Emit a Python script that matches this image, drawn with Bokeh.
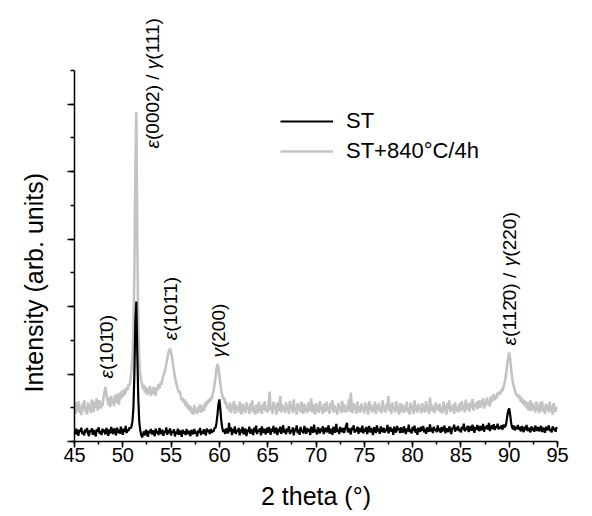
from bokeh.plotting import figure
from bokeh.models import FixedTicker, Label, Legend, LegendItem, Title
from bokeh.embed import file_html
from bokeh.resources import INLINE

# ---- data (2 theta from 45.0 to 95.0 in 0.1 degree steps) ----
st = [
    0.32, 0.21, 0.38, 0.26, 0.17, 0.35, 0.29, 0.41, 0.22, 0.30,
    0.18, 0.36, 0.27, 0.40, 0.24, 0.16, 0.33, 0.28, 0.39, 0.20,
    0.34, 0.25, 0.15, 0.37, 0.29, 0.42, 0.23, 0.31, 0.19, 0.38,
    0.27, 0.35, 0.21, 0.40, 0.30, 0.17, 0.36, 0.24, 0.43, 0.28,
    0.22, 0.39, 0.31, 0.18, 0.41, 0.26, 0.35, 0.23, 0.44, 0.30,
    0.20, 0.38, 0.28, 0.46, 0.25, 0.36, 0.31, 0.42, 0.38, 0.45,
    0.60, 1.00, 2.00, 3.60, 4.15, 2.60, 1.30, 0.60, 0.35, 0.20,
    0.12, 0.22, 0.30, 0.18, 0.35, 0.25, 0.14, 0.32, 0.26, 0.37,
    0.21, 0.33, 0.27, 0.16, 0.38, 0.24, 0.31, 0.19, 0.40, 0.28,
    0.22, 0.35, 0.17, 0.30, 0.26, 0.42, 0.20, 0.34, 0.25, 0.39,
    0.18, 0.31, 0.27, 0.36, 0.15, 0.29, 0.23, 0.38, 0.20, 0.33,
    0.26, 0.14, 0.35, 0.24, 0.30, 0.19, 0.37, 0.22, 0.32, 0.25,
    0.16, 0.34, 0.28, 0.21, 0.37, 0.24, 0.30, 0.15, 0.33, 0.26,
    0.40, 0.19, 0.31, 0.23, 0.36, 0.27, 0.18, 0.38, 0.29, 0.34,
    0.22, 0.37, 0.26, 0.33, 0.30, 0.41, 0.40, 0.55, 0.80, 1.10,
    1.25, 0.95, 0.60, 0.40, 0.28, 0.36, 0.22, 0.39, 0.31, 0.24,
    0.55, 0.30, 0.42, 0.19, 0.37, 0.26, 0.45, 0.22, 0.34, 0.29,
    0.40, 0.18, 0.36, 0.27, 0.43, 0.21, 0.33, 0.38, 0.16, 0.35,
    0.28, 0.44, 0.23, 0.36, 0.31, 0.19, 0.41, 0.27, 0.47, 0.22,
    0.34, 0.30, 0.39, 0.18, 0.45, 0.25, 0.37, 0.32, 0.21, 0.40,
    0.26, 0.43, 0.33, 0.20, 0.38, 0.29, 0.46, 0.24, 0.35, 0.41,
    0.19, 0.37, 0.28, 0.44, 0.23, 0.32, 0.48, 0.26, 0.36, 0.21,
    0.39, 0.30, 0.45, 0.22, 0.34, 0.27, 0.42, 0.18, 0.38, 0.31,
    0.48, 0.25, 0.36, 0.20, 0.43, 0.29, 0.35, 0.24, 0.46, 0.32,
    0.23, 0.40, 0.29, 0.37, 0.19, 0.44, 0.31, 0.26, 0.50, 0.28,
    0.35, 0.21, 0.42, 0.33, 0.24, 0.39, 0.30, 0.45, 0.22, 0.36,
    0.41, 0.27, 0.34, 0.48, 0.23, 0.38, 0.30, 0.20, 0.44, 0.32,
    0.26, 0.52, 0.29, 0.37, 0.22, 0.43, 0.35, 0.28, 0.40, 0.25,
    0.36, 0.46, 0.55, 0.27, 0.39, 0.31, 0.21, 0.42, 0.34, 0.48,
    0.26, 0.37, 0.30, 0.44, 0.23, 0.40, 0.33, 0.28, 0.47, 0.24,
    0.38, 0.29, 0.43, 0.22, 0.35, 0.46, 0.27, 0.40, 0.31, 0.19,
    0.42, 0.36, 0.25, 0.48, 0.30, 0.38, 0.23, 0.45, 0.33, 0.28,
    0.41, 0.26, 0.37, 0.31, 0.49, 0.24, 0.35, 0.43, 0.29, 0.38,
    0.20, 0.44, 0.32, 0.27, 0.46, 0.34, 0.39, 0.25, 0.42, 0.30,
    0.27, 0.45, 0.33, 0.22, 0.39, 0.30, 0.50, 0.28, 0.36, 0.24,
    0.43, 0.31, 0.47, 0.26, 0.38, 0.20, 0.41, 0.35, 0.29, 0.44,
    0.32, 0.46, 0.27, 0.38, 0.23, 0.42, 0.35, 0.29, 0.51, 0.30,
    0.40, 0.25, 0.44, 0.33, 0.37, 0.28, 0.48, 0.31, 0.39, 0.26,
    0.43, 0.30, 0.36, 0.47, 0.24, 0.39, 0.33, 0.28, 0.45, 0.35,
    0.22, 0.41, 0.37, 0.50, 0.29, 0.42, 0.34, 0.46, 0.31, 0.38,
    0.27, 0.44, 0.36, 0.53, 0.30, 0.41, 0.35, 0.47, 0.28, 0.39,
    0.45, 0.32, 0.50, 0.37, 0.26, 0.43, 0.34, 0.49, 0.38, 0.31,
    0.46, 0.33, 0.40, 0.52, 0.29, 0.44, 0.38, 0.48, 0.35, 0.55,
    0.31, 0.42, 0.47, 0.37, 0.51, 0.34, 0.45, 0.40, 0.53, 0.36,
    0.44, 0.39, 0.48, 0.35, 0.50, 0.42, 0.45, 0.55, 0.75, 0.92,
    0.98, 0.80, 0.55, 0.42, 0.36, 0.47, 0.33, 0.44, 0.38, 0.49,
    0.35, 0.42, 0.30, 0.46, 0.37, 0.28, 0.44, 0.34, 0.49, 0.31,
    0.40, 0.36, 0.27, 0.45, 0.33, 0.41, 0.29, 0.47, 0.38, 0.32,
    0.43, 0.30, 0.38, 0.46, 0.28, 0.41, 0.35, 0.26, 0.44, 0.33,
    0.39, 0.48, 0.31, 0.37, 0.27, 0.45, 0.34, 0.40, 0.29, 0.42,
    0.36,
]

st_840 = [
    0.98, 0.82, 1.15, 0.90, 1.20, 0.85, 1.05, 0.78, 1.12, 0.94,
    1.22, 0.86, 1.02, 0.80, 1.16, 0.92, 1.08, 0.84, 1.25, 0.96,
    0.88, 1.18, 1.00, 1.28, 0.92, 1.10, 1.22, 0.98, 1.15, 1.05,
    1.30, 1.45, 1.62, 1.40, 1.25, 1.08, 1.30, 1.02, 1.35, 1.12,
    1.28, 1.05, 1.38, 1.15, 1.42, 1.20, 1.10, 1.45, 1.25, 1.50,
    1.32, 1.55, 1.38, 1.48, 1.60, 1.52, 1.70, 1.65, 1.85, 2.10,
    2.50, 3.30, 5.00, 8.00, 9.76, 6.00, 3.40, 2.40, 2.00, 1.80,
    1.70, 1.55, 1.68, 1.45, 1.62, 1.38, 1.58, 1.42, 1.65, 1.35,
    1.55, 1.40, 1.62, 1.48, 1.36, 1.60, 1.52, 1.70, 1.58, 1.75,
    1.68, 1.85, 1.95, 2.05, 2.15, 2.30, 2.45, 2.60, 2.72, 2.75,
    2.65, 2.50, 2.30, 2.10, 1.90, 1.78, 1.65, 1.55, 1.45, 1.50,
    1.35, 1.22, 1.30, 1.15, 1.25, 1.05, 1.18, 0.98, 1.10, 0.92,
    1.05, 0.84, 0.98, 0.80, 1.08, 0.86, 0.95, 0.82, 1.02, 0.88,
    1.10, 0.85, 0.98, 1.05, 0.90, 1.15, 1.02, 1.20, 1.12, 1.25,
    1.18, 1.30, 1.25, 1.42, 1.50, 1.70, 1.90, 2.15, 2.30, 2.20,
    1.95, 1.70, 1.50, 1.38, 1.25, 1.30, 1.10, 1.18, 0.98, 1.08,
    0.90, 1.15, 0.84, 1.05, 0.95, 1.20, 0.82, 1.10, 0.92, 1.02,
    0.86, 1.18, 0.96, 0.80, 1.12, 0.90, 1.06, 0.84, 1.16, 0.94,
    1.04, 0.82, 1.14, 0.92, 1.22, 0.86, 1.00, 0.80, 1.10, 0.96,
    0.84, 1.18, 0.90, 1.06, 0.82, 1.12, 0.94, 1.20, 0.88, 1.02,
    0.86, 1.12, 1.48, 0.92, 1.05, 0.82, 1.18, 0.95, 1.08, 0.80,
    1.15, 0.90, 1.02, 1.35, 0.86, 1.10, 0.94, 1.04, 0.84, 1.16,
    0.92, 1.06, 0.82, 1.20, 0.96, 1.10, 0.84, 1.25, 0.90, 1.02,
    0.80, 1.14, 0.94, 1.08, 0.86, 1.18, 0.98, 0.82, 1.12, 0.90,
    1.04, 0.84, 1.16, 0.92, 1.00, 1.28, 0.86, 1.10, 0.95, 0.80,
    1.14, 0.90, 1.06, 0.85, 1.20, 0.94, 1.02, 0.82, 1.12, 0.96,
    0.88, 1.18, 0.92, 1.04, 0.82, 1.15, 0.96, 1.22, 0.86, 1.08,
    0.90, 1.00, 0.80, 1.14, 0.94, 1.06, 0.84, 1.20, 0.98, 0.88,
    1.10, 0.86, 1.02, 0.92, 1.25, 0.88, 1.45, 1.00, 0.84, 1.14,
    0.95, 1.08, 0.82, 1.18, 0.90, 1.05, 0.86, 1.12, 0.94, 1.02,
    0.84, 1.16, 0.92, 1.06, 0.80, 1.20, 0.96, 1.10, 0.86, 1.02,
    0.90, 1.18, 0.82, 1.08, 0.94, 1.14, 0.88, 1.00, 0.84, 1.22,
    0.92, 1.04, 0.86, 1.12, 0.96, 1.35, 0.90, 1.08, 0.82, 1.16,
    0.94, 1.02, 0.86, 1.20, 0.92, 1.06, 0.80, 1.14, 0.98, 0.88,
    1.10, 0.84, 1.04, 0.92, 1.18, 0.86, 1.00, 0.80, 1.15, 0.94,
    1.08, 0.82, 1.22, 0.90, 1.06, 0.86, 1.12, 0.96, 1.02, 0.84,
    1.14, 0.90, 1.06, 0.86, 1.20, 0.94, 1.02, 0.82, 1.30, 0.92,
    1.10, 0.88, 1.04, 0.84, 1.16, 0.96, 1.08, 0.90, 1.12, 0.86,
    1.00, 0.84, 1.18, 0.92, 1.06, 0.80, 1.14, 0.96, 1.22, 0.88,
    1.04, 0.92, 1.10, 0.82, 1.16, 0.94, 1.02, 0.86, 1.08, 1.12,
    0.90, 1.20, 0.96, 1.08, 0.86, 1.24, 0.94, 1.12, 1.02, 0.88,
    1.16, 1.00, 1.26, 0.92, 1.10, 1.04, 1.18, 0.96, 1.14, 1.22,
    1.00, 1.20, 1.08, 1.28, 0.98, 1.16, 1.06, 1.30, 1.12, 1.22,
    1.04, 1.34, 1.18, 1.26, 1.40, 1.22, 1.36, 1.28, 1.45, 1.38,
    1.48, 1.40, 1.55, 1.50, 1.62, 1.70, 1.85, 2.05, 2.30, 2.50,
    2.64, 2.45, 2.15, 1.90, 1.70, 1.62, 1.50, 1.42, 1.35, 1.40,
    1.28, 1.36, 1.18, 1.30, 1.12, 1.24, 1.05, 1.20, 0.98, 1.16,
    0.92, 1.10, 1.22, 0.90, 1.14, 0.96, 1.08, 0.86, 1.18, 0.94,
    1.06, 0.84, 1.15, 0.92, 1.20, 0.88, 1.02, 0.82, 1.12, 0.96,
    1.08, 0.86, 1.18, 0.90, 1.04, 0.80, 1.14, 0.94, 0.88, 1.02,
    0.95,
]

theta_st = [round(45 + 0.1 * i, 1) for i in range(len(st))]
theta_840 = [round(45 + 0.1 * i, 1) for i in range(len(st_840))]

series_names = ["ST", "ST+840\u00b0C/4h"]

x_ticks = [45, 50, 55, 60, 65, 70, 75, 80, 85, 90, 95]
x_minor = [45 + 2.5 * i for i in range(21)]
y_ticks = [0, 2, 4, 6, 8, 10]
y_minor = list(range(12))

peak_labels = [
    "\u03b5(0002) / \u03b3(111)",
    "\u03b5(101\u03040)",
    "\u03b5(101\u03041)",
    "\u03b3(200)",
    "\u03b5(112\u03040) / \u03b3(220)",
]
peak_label_x = [53.1, 48.3, 54.9, 59.9, 90.0]
peak_label_y = [8.69, 1.87, 3.0, 2.49, 2.85]

FONT = "Liberation Sans"
LABEL_PX = 19
GREEK = "\u03b5\u03b3"
ADV = {"(": 0.333, ")": 0.333, "/": 0.278, " ": 0.278,
       "\u03b5": 0.447, "\u03b3": 0.50}


def advance(s):
    return sum(ADV.get(c, 0.556 if c.isdigit() else 0.0) for c in s)


def runs(s):
    out, cur = [], ""
    for c in s:
        if c in GREEK:
            if cur:
                out.append((cur, False))
                cur = ""
            out.append((c, True))
        else:
            cur += c
    if cur:
        out.append((cur, False))
    return out


p = figure(width=576, height=516, x_range=(45, 95), y_range=(0, 12.84),
           output_backend="svg", toolbar_location=None,
           min_border_left=74, min_border_right=19,
           min_border_top=8, min_border_bottom=75)
p.xgrid.visible = False
p.ygrid.visible = False
p.outline_line_color = None
p.background_fill_color = "white"
p.border_fill_color = "white"

r_gray = p.line(theta_840, st_840, line_color="#c3c3c3", line_width=2.6)
r_black = p.line(theta_st, st, line_color="black", line_width=2.2)

for ax in (p.xaxis[0], p.yaxis[0]):
    ax.axis_line_color = "black"
    ax.axis_line_width = 1.5
    ax.major_tick_line_color = "black"
    ax.minor_tick_line_color = "black"
    ax.major_tick_line_width = 1.5
    ax.minor_tick_line_width = 1.5
    ax.major_tick_in = 0
    ax.minor_tick_in = 0
    ax.axis_label_text_font = FONT
    ax.axis_label_text_font_style = "normal"
    ax.axis_label_text_font_size = "25px"
    ax.axis_label_text_color = "black"
    ax.major_label_text_font = FONT
    ax.major_label_text_color = "black"

p.xaxis.ticker = FixedTicker(ticks=x_ticks, minor_ticks=x_minor)
p.xaxis.major_tick_out = 6
p.xaxis.minor_tick_out = 3
p.xaxis.major_label_text_font_size = "20px"
p.xaxis.major_label_standoff = 0
p.xaxis.axis_label = "2 theta (\u00b0)"
p.xaxis.axis_label_standoff = 17

p.yaxis.ticker = FixedTicker(ticks=y_ticks, minor_ticks=y_minor)
p.yaxis.bounds = (0, 11)
p.yaxis.major_tick_out = 7
p.yaxis.minor_tick_out = 4
p.yaxis.major_label_text_font_size = "1px"
p.yaxis.major_label_text_color = None
p.yaxis.major_label_standoff = 0

ytitle = Title(text="Intensity (arb. units)", align="left", offset=49,
               vertical_align="top", standoff=35, text_font=FONT,
               text_font_size="25px", text_font_style="normal",
               text_color="black")
p.add_layout(ytitle, "left")

for t, lx, ly in zip(peak_labels, peak_label_x, peak_label_y):
    pos = 0.0
    for piece, italic in runs(t):
        shown = piece.rstrip()
        if shown:
            p.add_layout(Label(x=lx, y=ly, y_offset=pos * LABEL_PX, text=shown,
                               angle=90, angle_units="deg",
                               text_align="left", text_baseline="middle",
                               text_font=FONT, text_font_size=f"{LABEL_PX}px",
                               text_font_style="italic" if italic else "normal",
                               text_color="black"))
        pos += advance(piece)

legend = Legend(items=[LegendItem(label=series_names[0], renderers=[r_black]),
                       LegendItem(label=series_names[1], renderers=[r_gray])],
                location=(206, 277), glyph_width=53, glyph_height=20,
                label_height=20, label_standoff=13, spacing=4, padding=0,
                margin=0, border_line_color=None, background_fill_alpha=0,
                label_text_font=FONT, label_text_font_size="22px",
                label_text_color="black")
p.add_layout(legend, "center")

open("out.html", "w").write(file_html(p, INLINE))
